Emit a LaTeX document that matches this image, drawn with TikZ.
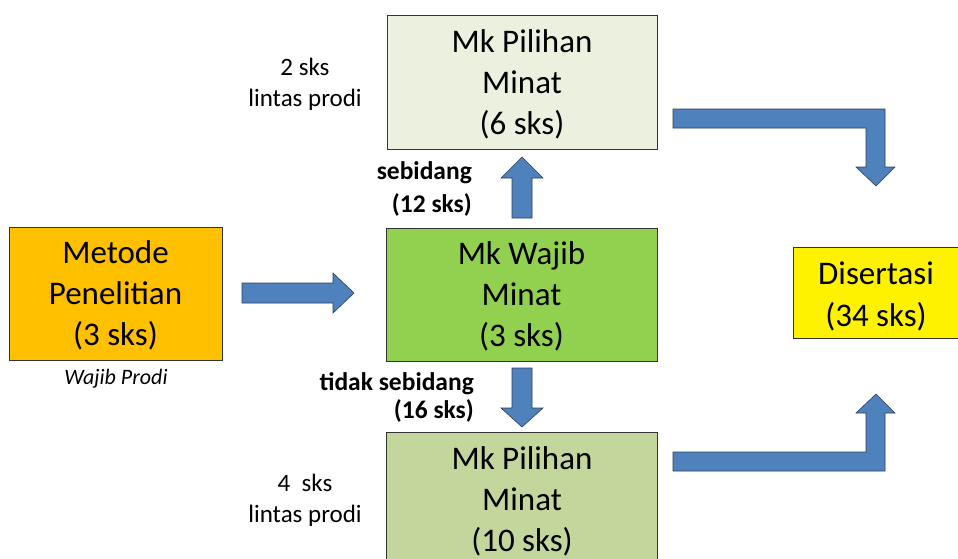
\documentclass[tikz,border=0pt]{standalone}
\usepackage{fontspec}
\setmainfont{Carlito}
\definecolor{orangebox}{HTML}{FFC000}
\definecolor{lightgreen}{HTML}{EBF1DE}
\definecolor{wajibgreen}{HTML}{92D050}
\definecolor{midgreen}{HTML}{C3D69B}
\definecolor{arrowblue}{HTML}{4F81BD}
\definecolor{arrowedge}{HTML}{2F3F55}
\tikzset{
  box/.style={draw=black!80, line width=0.8pt, anchor=north west, inner sep=0pt},
  bigtext/.style={font=\fontsize{33}{41}\selectfont, align=center, inner sep=0pt},
  smalltext/.style={font=\fontsize{25}{31}\selectfont, align=center, inner sep=0pt},
  boldlabel/.style={anchor=east, inner sep=0pt, align=right},
  blockarrow/.style={fill=arrowblue, draw=arrowedge, line width=0.6pt, line join=miter},
}
\begin{document}
\begin{tikzpicture}[x=1pt,y=-1pt]
\clip (0,0) rectangle (958,558);
\fill[white] (0,0) rectangle (958,558);
% boxes
\node[box, fill=orangebox, minimum width=213pt, minimum height=133pt] (metode) at (9,227) {};
\node[box, fill=lightgreen, minimum width=270pt, minimum height=134pt] (pilA) at (387,15) {};
\node[box, fill=wajibgreen, minimum width=271pt, minimum height=133pt] (wajib) at (386,228) {};
\node[box, fill=midgreen, minimum width=271pt, minimum height=134pt] (pilB) at (386,432) {};
\node[box, fill=yellow, minimum width=166pt, minimum height=91pt] (dis) at (793,247) {};
% box texts
\node[bigtext] (tmetode) at (115.5,295.5) {Metode\\Penelitian\\(3 sks)};
\node[bigtext] (tpilA) at (522,84.5) {Mk Pilihan\\Minat\\(6 sks)};
\node[bigtext] (twajib) at (521.5,296.5) {Mk Wajib\\Minat\\(3 sks)};
\node[bigtext] (tpilB) at (522,501.5) {Mk Pilihan\\Minat\\(10 sks)};
\node[font=\fontsize{33}{42}\selectfont, align=center, inner sep=0pt] (tdis) at (876,296) {Disertasi\\(34 sks)};
% side texts
\node[smalltext] (lintasA) at (305,84) {2 sks\\lintas prodi};
\node[smalltext] (lintasB) at (305,500) {4\ \ sks\\lintas prodi};
\node[font=\fontsize{22}{26}\selectfont\itshape, inner sep=0pt] (wp) at (116,379) {Wajib Prodi};
\node[boldlabel, font=\fontsize{25.5}{33}\selectfont\bfseries] (seb) at (472,189) {sebidang\\(12 sks)};
\node[boldlabel, font=\fontsize{25.5}{28}\selectfont\bfseries] (tseb) at (474,397.5) {tidak sebidang\\(16 sks)};
% straight arrows
\draw[blockarrow] (242,283) -- (333,283) -- (333,273) -- (354,293) -- (333,313) -- (333,303) -- (242,303) -- cycle;
\draw[blockarrow] (512,218) -- (512,178) -- (501,178) -- (522,157) -- (543,178) -- (532,178) -- (532,218) -- cycle;
\draw[blockarrow] (512,368) -- (532,368) -- (532,408) -- (543,408) -- (522,427) -- (501,408) -- (512,408) -- cycle;
% bent arrows
\draw[blockarrow] (673,109) -- (885,109) -- (885,167) -- (895,167) -- (876,186) -- (856,167) -- (866,167) -- (866,128) -- (673,128) -- cycle;
\draw[blockarrow] (673,471) -- (885,471) -- (885,413) -- (895,413) -- (876,394) -- (856,413) -- (866,413) -- (866,452) -- (673,452) -- cycle;
\end{tikzpicture}
\end{document}
